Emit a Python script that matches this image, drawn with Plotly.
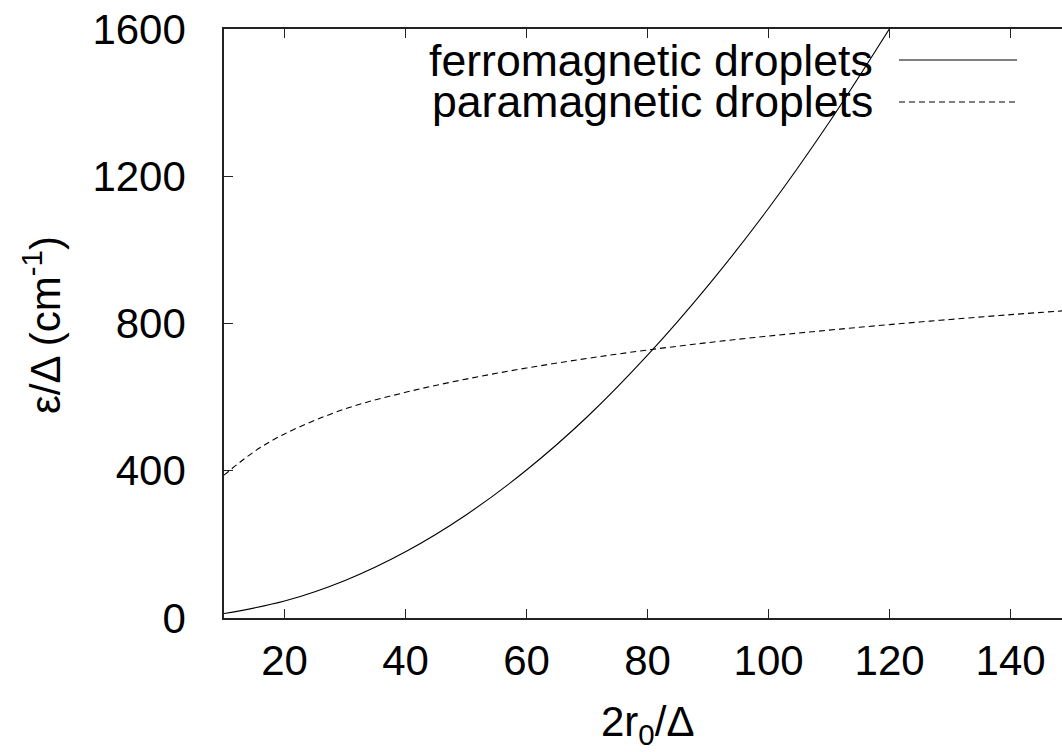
import plotly.graph_objects as go

# ---- data ----
x_ferro = [10, 20, 30, 40, 50, 60, 70, 80, 90, 100, 110, 120]
y_ferro = [12, 46, 102, 180, 280, 402, 546, 714, 903, 1113, 1346, 1601]

x_para = [10, 15, 20, 30, 40, 50, 60, 70, 80, 90, 100, 110, 120, 130, 140, 150]
y_para = [388, 452, 500, 568, 613, 649, 679, 705, 728, 748, 766, 782, 797, 811, 824, 836]

x_ticks = [20, 40, 60, 80, 100, 120, 140]
y_ticks = [0, 400, 800, 1200, 1600]

series_names = ["ferromagnetic droplets", "paramagnetic droplets"]

FONT = "Liberation Sans, Arial, Helvetica, sans-serif"
W, H = 1062, 752
ML, MR, MT, MB = 224, 0, 29, 134
X_MIN, X_MAX = 10, 148.5

fig = go.Figure()
fig.add_trace(go.Scatter(x=x_ferro, y=y_ferro, mode="lines", name=series_names[0],
                         line=dict(color="black", width=1.1, shape="spline", smoothing=1.0),
                         showlegend=False))
fig.add_trace(go.Scatter(x=x_para, y=y_para, mode="lines", name=series_names[1],
                         line=dict(color="black", width=1.1, dash="6px,4px", shape="spline",
                                   smoothing=1.0),
                         showlegend=False))

pw = W - ML - MR
ph = H - MT - MB


def px_x(p):
    return (p - ML) / pw


def px_y(p):
    return (H - MB - p) / ph


# legend (text left of sample, gnuplot style)
for i, (name, dash) in enumerate(zip(series_names, ["solid", "6px,4px"])):
    yy = px_y(60 + 42 * i)
    fig.add_annotation(x=px_x(875), y=yy, xref="paper", yref="paper", text=name,
                       showarrow=False, xanchor="right", yanchor="middle",
                       font=dict(family=FONT, size=44.6, color="black"))
    fig.add_shape(type="line", xref="paper", yref="paper", x0=px_x(899), x1=px_x(1017),
                  y0=yy, y1=yy, line=dict(color="black", width=1.1, dash=dash))

# axis titles
fig.add_annotation(x=px_x(647), y=px_y(724), xref="paper", yref="paper",
                   text="2r<sub>0</sub>/Δ", showarrow=False, xanchor="center", yanchor="middle",
                   font=dict(family=FONT, size=42, color="black"))
fig.add_annotation(x=px_x(42), y=px_y(325), xref="paper", yref="paper",
                   text="ε/Δ (cm<sup>-1</sup>)", showarrow=False, textangle=-90,
                   xanchor="center", yanchor="middle",
                   font=dict(family=FONT, size=42, color="black"))

fig.update_layout(
    width=W, height=H,
    margin=dict(l=ML, r=MR, t=MT, b=MB, pad=0),
    paper_bgcolor="white", plot_bgcolor="white",
    font=dict(family=FONT, size=42, color="black"),
    xaxis=dict(range=[X_MIN, X_MAX], tickvals=x_ticks, ticks="inside", ticklen=9,
               tickwidth=1.3, tickcolor="#222", showline=True, linecolor="#222", linewidth=1.5,
               mirror="ticks", showgrid=False, zeroline=False, ticklabelstandoff=5,
               tickfont=dict(family=FONT, size=42, color="black")),
    yaxis=dict(range=[0, 1600], tickvals=y_ticks, ticks="inside", ticklen=9,
               tickwidth=1.3, tickcolor="#222", showline=True, linecolor="#222", linewidth=1.5,
               mirror=False, showgrid=False, zeroline=False, ticklabelstandoff=28,
               tickfont=dict(family=FONT, size=42, color="black")),
)

fig.write_html("out.html", config={"displayModeBar": False},
               post_script="document.body.style.margin='0';document.body.style.overflow='hidden';")
